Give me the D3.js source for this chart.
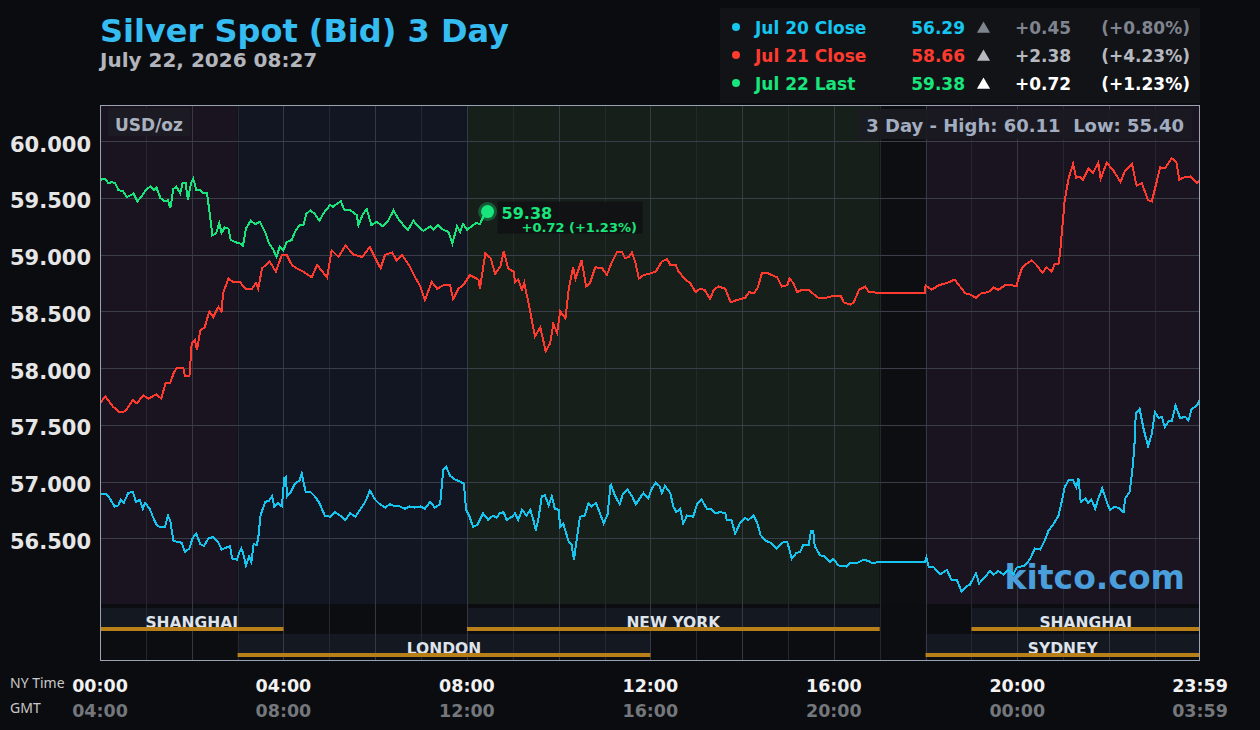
<!DOCTYPE html>
<html>
<head>
<meta charset="utf-8">
<script src="https://d3js.org/d3.v7.min.js"></script>
<style>
  body { margin: 0; background: #0b0c10; }
  text { font-family: "DejaVu Sans", sans-serif; font-weight: bold; }
</style>
</head>
<body>
<div id="chart"></div>
<script>
// ---- data ----
var yTicks = [56.5, 57, 57.5, 58, 58.5, 59, 59.5, 60];
var xTickMin = [0, 240, 480, 720, 960, 1200, 1439];
var nyLabels = ["00:00", "04:00", "08:00", "12:00", "16:00", "20:00", "23:59"];
var gmtLabels = ["04:00", "08:00", "12:00", "16:00", "20:00", "00:00", "03:59"];

// trading-hour shading (NY hours)
var bandFrom = [0, 3, 8, 17, 18];
var bandTo = [3, 8, 17, 18, 24];
var bandKind = ["asia", "europe", "us", "closed", "asia"];

var sessionNames = ["SHANGHAI", "LONDON", "NEW YORK", "SYDNEY", "SHANGHAI"];
var sessionFrom = [0, 3, 8, 18, 19];
var sessionTo = [4, 12, 17, 24, 24];
var sessionRow = [0, 1, 0, 1, 0];

var legendNames = ["Jul 20 Close", "Jul 21 Close", "Jul 22 Last"];
var legendPrices = [56.29, 58.66, 59.38];
var legendChanges = [0.45, 2.38, 0.72];
var legendPcts = [0.80, 4.23, 1.23];

var high3d = 60.11, low3d = 55.40;

// minutes after NY midnight, bid price
var jul20Min = [0,8,13,19,24,27,31,37,43,47,52,56,59,65,71,74,78,85,89,92,96,100,107,111,117,121,126,131,136,142,148,155,159,166,170,173,179,182,185,187,191,195,198,201,205,207,210,216,221,225,228,233,238,241,243,245,249,255,261,264,269,275,281,287,
  294,301,307,314,321,327,334,340,347,353,360,366,373,379,386,392,399,405,412,419,425,432,438,445,449,453,458,464,471,476,479,483,488,494,501,508,514,519,
  523,528,532,539,543,547,552,558,563,567,570,573,578,582,587,591,595,600,602,606,613,617,620,624,628,634,639,643,649,654,659,664,668,674,680,684,690,696,701,706,711,717,722,727,732,735,739,746,750,754,759,763,768,776,781,787,794,799,805,811,818,820,826,831,837,844,848,855,860,864,870,877,885,892,899,905,911,916,920,927,930,933,935,942,948,955,959,966,977,981,990,999,1005,1010,1018,
  1079,1081,1084,1090,1099,1108,1114,1121,1127,1134,1138,1146,1150,1158,1164,1169,1175,1182,1188,1195,1199,1210,1217,1223,1230,1236,1241,1247,1254,1258,1262,1267,1273,1277,1280,1283,1289,1293,1297,1302,1306,1311,1316,1321,1328,1334,1339,1341,1347,1350,1353,1355,1360,1365,1371,1376,1380,1385,1389,1393,1398,1402,1407,1413,1420,1424,1428,1435,1439];
var jul20Val = [56.89,56.89,56.85,56.78,56.79,56.84,56.81,56.90,56.91,56.82,56.84,56.76,56.81,56.76,56.66,56.62,56.60,56.60,56.70,56.65,56.48,56.47,56.46,56.38,56.41,56.50,56.54,56.45,56.43,56.50,56.51,56.46,56.40,56.42,56.43,56.32,56.31,56.37,56.41,56.37,56.26,56.34,56.29,56.45,56.44,56.50,56.70,56.82,56.83,56.87,56.78,56.81,56.78,57.03,57.04,56.87,56.90,56.98,57.01,57.07,56.91,56.91,56.87,56.81,
  56.70,56.69,56.73,56.70,56.66,56.72,56.69,56.75,56.82,56.92,56.84,56.80,56.77,56.80,56.78,56.78,56.76,56.78,56.77,56.78,56.76,56.82,56.77,56.80,57.10,57.13,57.05,57.02,57.00,56.98,56.75,56.70,56.60,56.62,56.72,56.66,56.70,56.68,
  56.72,56.73,56.66,56.69,56.72,56.66,56.75,56.70,56.75,56.66,56.57,56.65,56.87,56.88,56.79,56.87,56.76,56.75,56.60,56.63,56.47,56.44,56.31,56.51,56.69,56.70,56.81,56.78,56.81,56.72,56.63,56.71,56.98,56.87,56.80,56.89,56.93,56.87,56.80,56.85,56.90,56.85,56.94,56.99,56.96,56.90,56.96,56.90,56.78,56.73,56.76,56.63,56.70,56.69,56.80,56.84,56.76,56.76,56.72,56.73,56.72,56.66,56.66,56.54,56.63,56.68,56.66,56.70,56.63,56.53,56.48,56.46,56.41,56.46,56.47,56.32,56.37,56.38,56.44,56.44,56.56,56.56,56.43,56.35,56.34,56.29,56.32,56.26,56.25,56.28,56.28,56.31,56.30,56.28,56.29,
  56.29,56.33,56.25,56.25,56.18,56.22,56.13,56.13,56.03,56.08,56.09,56.19,56.10,56.16,56.21,56.18,56.21,56.18,56.22,56.18,56.24,56.26,56.32,56.41,56.40,56.48,56.57,56.62,56.70,56.82,56.95,57.01,57.01,56.95,57.03,56.82,56.85,56.81,56.84,56.76,56.85,56.94,56.84,56.75,56.78,56.76,56.73,56.85,56.91,57.07,57.28,57.60,57.64,57.47,57.31,57.42,57.61,57.56,57.57,57.48,57.53,57.53,57.67,57.56,57.57,57.54,57.64,57.67,57.72];

var jul21Min = [0,7,17,26,33,43,48,57,63,74,80,86,92,96,100,109,111,117,120,124,127,131,137,143,148,155,159,161,168,174,183,190,199,204,207,212,222,230,238,244,251,257,266,277,284,297,303,312,321,332,343,353,360,367,373,382,388,395,404,410,419,425,434,441,449,458,462,469,475,484,495,497,504,511,517,524,528,534,541,543,547,552,555,561,565,569,576,583,589,593,598,602,609,613,619,622,630,636,641,648,657,663,670,676,683,687,692,696,700,705,711,718,727,735,742,746,753,757,766,772,779,785,791,798,803,809,818,825,833,844,849,855,860,866,873,879,886,892,899,902,907,912,918,927,934,940,949,956,962,969,973,982,986,993,1001,1006,1012,1019,
  1079,1080,1088,1097,1108,1118,1125,1132,1138,1146,1153,1162,1169,1175,1184,1193,1199,1201,1206,1212,1219,1225,1233,1238,1245,1249,1254,1256,1259,1262,1267,1273,1277,1282,1286,1293,1299,1306,1309,1317,1326,1335,1341,1350,1356,1363,1371,1376,1380,1387,1393,1402,1408,1412,1417,1426,1435,1439];
var jul21Val = [57.69,57.75,57.66,57.61,57.62,57.72,57.69,57.76,57.73,57.77,57.73,57.87,57.87,57.95,58.00,58.00,57.93,57.93,58.22,58.25,58.16,58.33,58.36,58.50,58.45,58.54,58.50,58.66,58.79,58.76,58.76,58.70,58.70,58.75,58.70,58.88,58.94,58.85,59.00,59.00,58.91,58.88,58.85,58.80,58.91,58.80,59.04,58.98,59.08,59.00,58.98,59.07,58.97,58.88,59.00,59.02,58.95,59.00,58.91,58.83,58.72,58.60,58.76,58.70,58.73,58.73,58.61,58.70,58.73,58.82,58.78,58.70,59.01,58.97,58.83,58.90,59.03,58.88,58.85,58.76,58.78,58.69,58.75,58.56,58.42,58.28,58.36,58.15,58.22,58.39,58.31,58.50,58.44,58.69,58.89,58.79,58.95,58.72,58.75,58.89,58.88,58.82,58.94,59.02,59.02,58.97,58.98,59.02,58.94,58.79,58.82,58.83,58.85,58.94,58.96,58.91,58.91,58.85,58.78,58.75,58.67,58.70,58.69,58.61,58.69,58.72,58.70,58.58,58.60,58.62,58.67,58.66,58.70,58.84,58.84,58.82,58.80,58.72,58.73,58.79,58.75,58.67,58.69,58.69,58.65,58.62,58.62,58.63,58.64,58.64,58.58,58.56,58.58,58.69,58.72,58.67,58.67,58.66,
  58.66,58.73,58.69,58.73,58.75,58.78,58.72,58.66,58.65,58.62,58.66,58.67,58.71,58.69,58.73,58.73,58.72,58.78,58.88,58.92,58.95,58.91,58.84,58.89,58.85,58.92,58.92,59.02,59.25,59.48,59.67,59.80,59.68,59.69,59.66,59.76,59.72,59.81,59.67,59.81,59.74,59.64,59.74,59.80,59.61,59.63,59.48,59.47,59.58,59.77,59.76,59.85,59.82,59.66,59.68,59.69,59.63,59.66];

var jul22Min = [0,7,11,15,20,24,30,35,39,44,46,49,54,61,66,71,74,79,85,89,92,96,100,105,108,112,115,119,122,126,131,135,140,143,147,152,156,159,163,168,171,177,183,187,191,197,203,209,216,221,227,231,235,240,244,251,255,261,266,270,275,281,287,292,301,305,310,315,320,328,336,338,344,349,355,362,370,377,384,390,397,403,410,416,423,432,436,442,449,456,461,467,471,475,480,486,492,497,501,507];
var jul22Val = [59.66,59.67,59.63,59.64,59.63,59.57,59.56,59.51,59.52,59.54,59.51,59.47,59.51,59.58,59.60,59.57,59.59,59.50,59.47,59.48,59.41,59.58,59.60,59.54,59.63,59.63,59.48,59.63,59.67,59.57,59.57,59.54,59.54,59.39,59.17,59.19,59.28,59.19,59.24,59.23,59.13,59.11,59.10,59.08,59.23,59.30,59.27,59.29,59.20,59.10,59.04,58.98,59.07,59.04,59.11,59.13,59.20,59.26,59.26,59.36,59.39,59.36,59.30,59.36,59.44,59.42,59.45,59.47,59.39,59.39,59.35,59.26,59.36,59.40,59.26,59.29,59.25,59.30,59.39,59.32,59.26,59.22,59.30,59.25,59.21,59.25,59.22,59.26,59.22,59.20,59.10,59.25,59.20,59.27,59.22,59.25,59.28,59.27,59.33,59.38];

// ---- layout ----
var W = 1260, H = 730;
var pL = 100, pR = 1200, pT = 105, pMain = 604, pB = 660;

var seriesColor = { jul20: "#16c6f0", jul21: "#ff3b30", jul22: "#18e67c" };
var bandColor = { asia: "#1a1320", europe: "#111622", us: "#161f19", closed: "#0d0e11" };

var svg = d3.select("#chart").append("svg")
  .attr("width", W).attr("height", H);

svg.append("rect").attr("width", W).attr("height", H).attr("fill", "#0b0c10");

var x = d3.scaleLinear().domain([0, 1439]).range([pL, pR]);
var y = d3.scaleLinear().domain([55.92, 60.32]).range([pMain, pT]);
function xh(h) { return Math.min(pR, x(h * 60)); }

// title
svg.append("text").attr("x", 100).attr("y", 42)
  .style("font-size", "32px").attr("fill", "#35bdf2")
  .text("Silver Spot (Bid) 3 Day");
svg.append("text").attr("x", 100).attr("y", 67)
  .style("font-size", "20px").attr("fill", "#b2b5bb")
  .text("July 22, 2026 08:27");

// legend
svg.append("rect").attr("x", 720).attr("y", 8).attr("width", 480).attr("height", 95)
  .attr("fill", "#121317");
var legendKeys = ["jul20", "jul21", "jul22"];
var legendTone = ["#7f848e", "#b6b9c0", "#ffffff"];
var fmtChg = d3.format("+.2f");
legendNames.forEach(function (name, i) {
  var by = 34 + i * 28;
  var c = seriesColor[legendKeys[i]];
  svg.append("circle").attr("cx", 736).attr("cy", by - 7).attr("r", 4).attr("fill", c);
  svg.append("text").attr("x", 755).attr("y", by).style("font-size", "17px").attr("fill", c).text(name);
  svg.append("text").attr("x", 965).attr("y", by).attr("text-anchor", "end")
    .style("font-size", "17px").attr("fill", c).text(legendPrices[i].toFixed(2));
  svg.append("path").attr("d", d3.symbol(d3.symbolTriangle, 75)())
    .attr("transform", "translate(983.5," + (by - 5) + ")").attr("fill", legendTone[i]);
  svg.append("text").attr("x", 1015).attr("y", by).style("font-size", "17px")
    .attr("fill", legendTone[i]).text(fmtChg(legendChanges[i]));
  svg.append("text").attr("x", 1190).attr("y", by).attr("text-anchor", "end").style("font-size", "17px")
    .attr("fill", legendTone[i]).text("(" + fmtChg(legendPcts[i]) + "%)");
});

// plot background
svg.append("rect").attr("x", pL).attr("y", pT).attr("width", pR - pL).attr("height", pB - pT)
  .attr("fill", "#0c0d10");
svg.selectAll(".band").data(d3.range(bandFrom.length)).enter().append("rect")
  .attr("x", function (i) { return xh(bandFrom[i]); })
  .attr("width", function (i) { return xh(bandTo[i]) - xh(bandFrom[i]); })
  .attr("y", pT).attr("height", pMain - pT)
  .attr("fill", function (i) { return bandColor[bandKind[i]]; });

// session rows
var rowTop = [608, 634];
svg.selectAll(".sess").data(d3.range(sessionNames.length)).enter().append("rect")
  .attr("x", function (i) { return xh(sessionFrom[i]); })
  .attr("width", function (i) { return xh(sessionTo[i]) - xh(sessionFrom[i]); })
  .attr("y", function (i) { return rowTop[sessionRow[i]]; })
  .attr("height", 23).attr("fill", "#141821");

// grid
var hours = d3.range(1, 24);
svg.selectAll(".vg").data(hours).enter().append("line")
  .attr("x1", function (h) { return Math.round(xh(h)) + 0.5; })
  .attr("x2", function (h) { return Math.round(xh(h)) + 0.5; })
  .attr("y1", pT).attr("y2", pB)
  .attr("stroke", function (h) { return h % 2 === 0 ? "#3a3d47" : "#272a32"; })
  .attr("stroke-opacity", 0.9);
svg.selectAll(".hg").data(yTicks).enter().append("line")
  .attr("x1", pL).attr("x2", pR)
  .attr("y1", function (v) { return Math.round(y(v)) + 0.5; })
  .attr("y2", function (v) { return Math.round(y(v)) + 0.5; })
  .attr("stroke", "#3b3e48");

// session labels + bars
svg.selectAll(".sl").data(d3.range(sessionNames.length)).enter().append("text")
  .attr("x", function (i) { return (xh(sessionFrom[i]) + xh(sessionTo[i])) / 2; })
  .attr("y", function (i) { return rowTop[sessionRow[i]] + 20; })
  .attr("text-anchor", "middle").style("font-size", "15.5px").attr("fill", "#dfe3ea")
  .text(function (i) { return sessionNames[i]; });
svg.selectAll(".sb").data(d3.range(sessionNames.length)).enter().append("rect")
  .attr("x", function (i) { return xh(sessionFrom[i]); })
  .attr("width", function (i) { return xh(sessionTo[i]) - xh(sessionFrom[i]); })
  .attr("y", function (i) { return rowTop[sessionRow[i]] + 19; })
  .attr("height", 4).attr("fill", "#b97f19");

// watermark
svg.append("text").attr("x", 1185).attr("y", 589).attr("text-anchor", "end")
  .style("font-size", "33px").attr("fill", "#4a9edb").text("kitco.com");

// series
svg.append("clipPath").attr("id", "clip").append("rect")
  .attr("x", pL).attr("y", pT).attr("width", pR - pL).attr("height", pMain - pT);
var line = d3.line().x(function (d) { return x(d[0]); }).y(function (d) { return y(d[1]); });
var series = [
  { key: "jul20", pts: d3.zip(jul20Min, jul20Val) },
  { key: "jul21", pts: d3.zip(jul21Min, jul21Val) },
  { key: "jul22", pts: d3.zip(jul22Min, jul22Val) }
];
svg.append("g").attr("clip-path", "url(#clip)").selectAll("path").data(series).enter().append("path")
  .attr("d", function (s) { return line(s.pts); })
  .attr("fill", "none").attr("stroke-width", 2)
  .attr("shape-rendering", "crispEdges")
  .attr("stroke", function (s) { return seriesColor[s.key]; });

// unit + range boxes
svg.append("rect").attr("x", 108).attr("y", 108).attr("width", 82).attr("height", 28)
  .attr("fill", "#1d1c24").attr("fill-opacity", 0.9);
svg.append("text").attr("x", 115).attr("y", 131).style("font-size", "17px").attr("fill", "#a9b1bf").text("USD/oz");
svg.append("rect").attr("x", 858).attr("y", 109).attr("width", 334).attr("height", 30)
  .attr("fill", "#1b1b22").attr("fill-opacity", 0.9);
svg.append("text").attr("x", 1184).attr("y", 132).attr("text-anchor", "end")
  .style("font-size", "18px").attr("fill", "#a3adc0")
  .text("3 Day - High: " + high3d.toFixed(2) + "\u00a0\u00a0Low: " + low3d.toFixed(2));

// last-price marker
var last = series[2].pts[series[2].pts.length - 1];
var lx = x(last[0]), ly = y(last[1]);
svg.append("rect").attr("x", lx + 10).attr("y", ly - 10).attr("width", 145).attr("height", 32)
  .attr("fill", "#101113").attr("fill-opacity", 0.85);
svg.append("circle").attr("cx", lx).attr("cy", ly).attr("r", 9.5).attr("fill", seriesColor.jul22).attr("fill-opacity", 0.3);
svg.append("circle").attr("cx", lx).attr("cy", ly).attr("r", 6.5).attr("fill", seriesColor.jul22);
svg.append("text").attr("x", lx + 14).attr("y", ly + 7).style("font-size", "16px")
  .attr("fill", seriesColor.jul22).text(last[1].toFixed(2));
svg.append("text").attr("x", lx + 34).attr("y", ly + 20.5).style("font-size", "13px")
  .attr("fill", seriesColor.jul22)
  .text(fmtChg(legendChanges[2]) + " (" + fmtChg(legendPcts[2]) + "%)");

// border
svg.append("rect").attr("x", pL + 0.5).attr("y", pT + 0.5)
  .attr("width", pR - pL - 1).attr("height", pB - pT)
  .attr("fill", "none").attr("stroke", "#9aa2b4").attr("stroke-width", 1);

// y axis labels
svg.selectAll(".yl").data(yTicks).enter().append("text")
  .attr("x", 91).attr("y", function (v) { return y(v) + 10.5; })
  .attr("text-anchor", "end").style("font-size", "21px").attr("fill", "#e6e6e6")
  .text(function (v) { return v.toFixed(3); });

// x axis labels
svg.append("text").attr("x", 10).attr("y", 688).style("font-family", "'Noto Sans', sans-serif")
  .style("font-weight", "normal").style("font-size", "14px").attr("fill", "#c9c9c9").text("NY Time");
svg.append("text").attr("x", 10).attr("y", 713).style("font-family", "'Noto Sans', sans-serif")
  .style("font-weight", "normal").style("font-size", "14px").attr("fill", "#c9c9c9").text("GMT");
svg.selectAll(".xl").data(xTickMin).enter().append("text")
  .attr("x", function (m) { return x(m); }).attr("y", 692)
  .attr("text-anchor", "middle").style("font-size", "17.5px").attr("fill", "#f2f2f2")
  .text(function (m, i) { return nyLabels[i]; });
svg.selectAll(".xg").data(xTickMin).enter().append("text")
  .attr("x", function (m) { return x(m); }).attr("y", 717)
  .attr("text-anchor", "middle").style("font-size", "17.5px").attr("fill", "#74777c")
  .text(function (m, i) { return gmtLabels[i]; });
</script>
</body>
</html>
